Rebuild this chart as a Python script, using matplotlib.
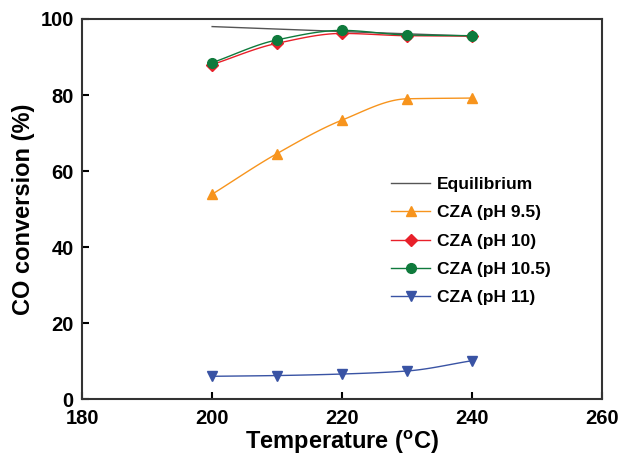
import numpy as np
import matplotlib.pyplot as plt

plt.rcParams['font.family'] = ['Liberation Sans', 'DejaVu Sans']
plt.rcParams['font.weight'] = 'bold'

temp = [200, 210, 220, 230, 240]
eq_temp = [200, 220, 240]
equilibrium = [98.0, 96.7, 95.5]
ph95 = [53.9, 64.6, 73.4, 79.0, 79.2]
ph10 = [88.0, 93.6, 96.2, 95.6, 95.5]
ph105 = [88.5, 94.5, 97.0, 95.8, 95.6]
ph11 = [6.0, 6.2, 6.6, 7.4, 10.1]


def smooth(x, y, n=30):
    # monotone cubic hermite curve through the points (for drawing only)
    x = np.asarray(x, float)
    y = np.asarray(y, float)
    h = np.diff(x)
    d = np.diff(y) / h
    m = np.zeros_like(y)
    m[0], m[-1] = d[0], d[-1]
    for k in range(1, len(y) - 1):
        if d[k-1] * d[k] > 0:
            w1 = 2*h[k] + h[k-1]
            w2 = h[k] + 2*h[k-1]
            m[k] = (w1 + w2) / (w1/d[k-1] + w2/d[k])
    xs, ys = [], []
    for k in range(len(h)):
        t = np.linspace(0, 1, n)
        h00 = 2*t**3 - 3*t**2 + 1
        h10 = t**3 - 2*t**2 + t
        h01 = -2*t**3 + 3*t**2
        h11 = t**3 - t**2
        xs.append(x[k] + t*h[k])
        ys.append(h00*y[k] + h10*h[k]*m[k] + h01*y[k+1] + h11*h[k]*m[k+1])
    return np.concatenate(xs), np.concatenate(ys)


fig = plt.figure(figsize=(6.18, 4.63), dpi=100)
ax = fig.add_axes([0.133, 0.138, 0.841, 0.821])

ax.plot(eq_temp, equilibrium, color='#555555', lw=1, label='Equilibrium')

series = [(ph95, '#f7941d', '^', 'CZA (pH 9.5)', 7),
          (ph10, '#e8202a', 'D', 'CZA (pH 10)', 6),
          (ph105, '#0f7a3c', 'o', 'CZA (pH 10.5)', 7),
          (ph11, '#3953a4', 'v', 'CZA (pH 11)', 7)]

for y, c, m, lab, ms in series:
    sx, sy = smooth(temp, y)
    ax.plot(sx, sy, color=c, lw=1)
    ax.plot(temp, y, ls='none', marker=m, color=c, ms=ms)
    ax.plot([], [], color=c, marker=m, ms=ms, lw=1, label=lab)

ax.set_xlim(180, 260)
ax.set_ylim(0, 100)
ax.set_xticks([180, 200, 220, 240, 260])
ax.set_yticks([0, 20, 40, 60, 80, 100])
ax.tick_params(direction='in', length=5, width=1.5, labelsize=14.5)
ax.tick_params(axis='x', pad=7)
ax.tick_params(axis='y', pad=6)
for lbl in ax.get_xticklabels() + ax.get_yticklabels():
    lbl.set_fontweight('bold')
for s in ax.spines.values():
    s.set_linewidth(1.5)
    s.set_color('#333333')

ax.set_xlabel('Temperature ($\\mathregular{^oC}$)', fontsize=17, fontweight='bold', labelpad=1)
ax.set_ylabel('CO conversion (%)', fontsize=17, fontweight='bold')

h, l = ax.get_legend_handles_labels()
ax.legend(h, l, loc='upper left', bbox_to_anchor=(0.565, 0.625), frameon=False,
          handlelength=2.2, handletextpad=0.4, labelspacing=0.75,
          prop={'weight': 'bold', 'size': 12.5})

fig.savefig('out.png', dpi=100)
